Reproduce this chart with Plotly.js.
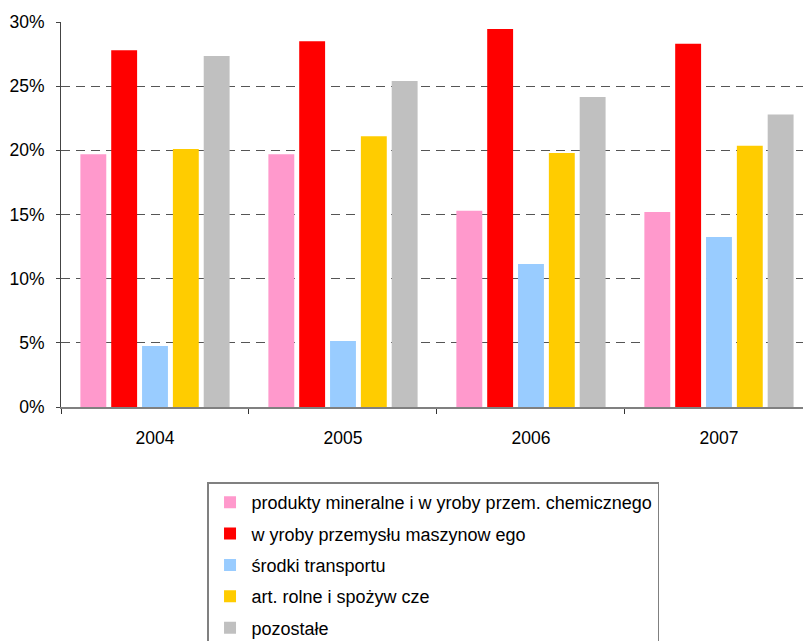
<!DOCTYPE html>
<html>
<head>
<meta charset="utf-8">
<script src="https://cdn.plot.ly/plotly-3.0.1.min.js"></script>
<style>html,body{margin:0;padding:0;background:#fff;}#chart{width:803px;height:641px;}</style>
</head>
<body>
<div id="chart"></div>
<script>
const years = ["2004", "2005", "2006", "2007"];
const seriesNames = [
  "produkty mineralne i w yroby przem. chemicznego",
  "w yroby przemysłu maszynow ego",
  "środki transportu",
  "art. rolne i spożyw cze",
  "pozostałe"
];
const mineralne = [19.7, 19.7, 15.3, 15.2];
const maszynowe = [27.8, 28.5, 29.45, 28.3];
const transport = [4.75, 5.15, 11.15, 13.25];
const rolne = [20.1, 21.1, 19.8, 20.35];
const pozostale = [27.35, 25.4, 24.15, 22.8];
const colors = ["#ff99cc", "#ff0000", "#99ccff", "#ffcc00", "#c0c0c0"];
const values = [mineralne, maszynowe, transport, rolne, pozostale];

const traces = values.map((v, i) => ({
  type: "bar",
  x: years,
  y: v,
  name: seriesNames[i],
  legendgroup: "g" + i,
  marker: {color: colors[i], line: {width: 0}},
  hoverinfo: "none"
}));

const layout = {
  width: 803,
  height: 641,
  margin: {l: 61, r: 0, t: 22, b: 234, autoexpand: false},
  paper_bgcolor: "#ffffff",
  plot_bgcolor: "#ffffff",
  font: {family: "Liberation Sans, Arial, sans-serif", color: "#000000", size: 17.5},
  barmode: "group",
  bargap: 0.18,
  bargroupgap: 0.16,
  showlegend: true,
  legend: {
    x: 0.1968, xanchor: "left",
    y: -0.196, yanchor: "top",
    bordercolor: "#808080", borderwidth: 1.5,
    bgcolor: "#ffffff",
    font: {size: 18, family: "Liberation Sans, Arial, sans-serif", color: "#000"},
    tracegroupgap: 5,
    itemwidth: 33,
    traceorder: "grouped"
  },
  xaxis: {
    type: "category",
    range: [-0.5, 3.447],
    showline: true, linecolor: "#808080", linewidth: 2,
    ticks: "outside", ticklen: 5, tickcolor: "#333", tickson: "boundaries",
    ticklabelstandoff: 14,
    showgrid: false, zeroline: false,
    tickfont: {size: 17.5}
  },
  yaxis: {
    range: [0, 30],
    tickvals: [0, 5, 10, 15, 20, 25, 30],
    ticktext: ["0%", "5%", "10%", "15%", "20%", "25%", "30%"],
    showline: true, linecolor: "#444", linewidth: 1,
    ticks: "outside", ticklen: 4, tickcolor: "#444",
    ticklabelstandoff: 8,
    showgrid: true, gridcolor: "#555", gridwidth: 1, griddash: "9px,6px",
    zeroline: false,
    tickfont: {size: 17.5}
  }
};

Plotly.newPlot("chart", traces, layout, {staticPlot: true, displayModeBar: false});
</script>
</body>
</html>
